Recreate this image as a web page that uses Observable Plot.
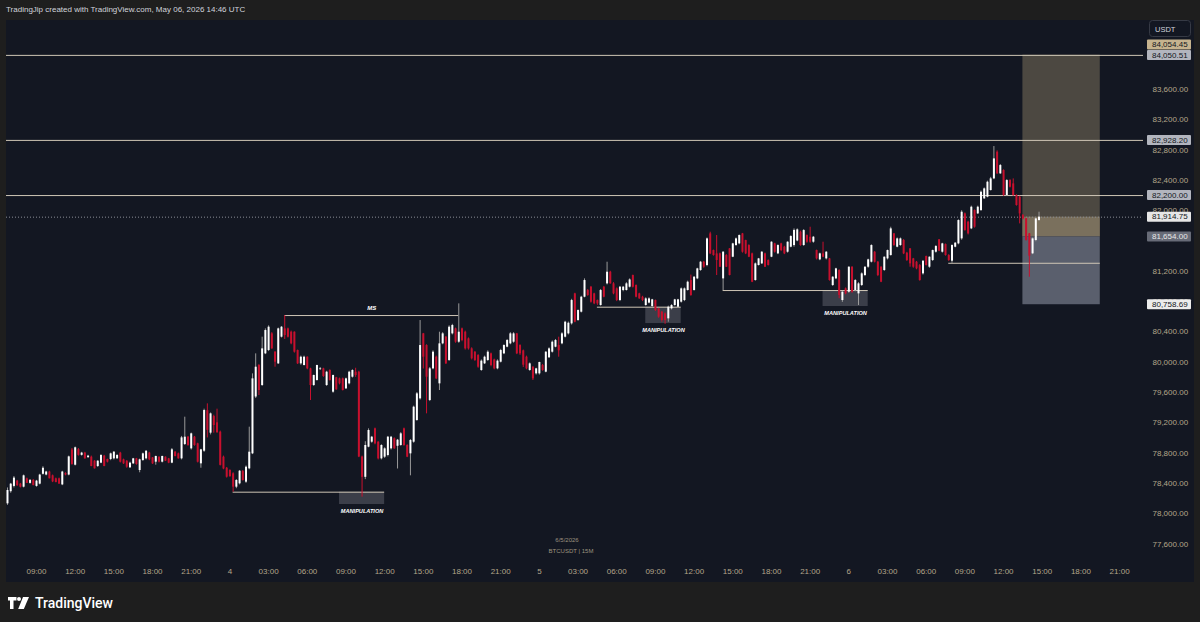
<!DOCTYPE html>
<html><head><meta charset="utf-8">
<script src="https://cdn.jsdelivr.net/npm/d3@7"></script>
<script src="https://cdn.jsdelivr.net/npm/@observablehq/plot@0.6"></script>
<style>
body{margin:0;background:#1e1e1e;width:1200px;height:622px;overflow:hidden;font-family:"Liberation Sans",Arial,sans-serif;position:relative;}
#hdr{position:absolute;left:6px;top:5px;font-size:8px;color:#d1d4dc;white-space:nowrap;}
#panel{position:absolute;left:6px;top:20px;width:1188px;height:562px;background:#131722;overflow:hidden;}
#panel svg{position:absolute;left:0;top:0;}
.wm{position:absolute;font-size:6px;color:#9d937f;white-space:nowrap;transform:translateX(-50%);}
#logo{position:absolute;left:8px;top:595px;display:flex;align-items:center;color:#fff;font-family:Roboto,"Liberation Sans",sans-serif;font-weight:500;font-size:14px;}
#logo svg{margin-right:6px;}
</style></head><body>
<div id="hdr">TradingJip created with TradingView.com, May 06, 2026 14:46 UTC</div>
<div id="panel"></div>
<div id="logo"><svg width="21" height="12" viewBox="0 0 21 12"><path d="M0 0h8.5v3.6h-3v8.4H2V3.6H0z" fill="#fff"/><circle cx="11" cy="2" r="2" fill="#fff"/><path d="M15 0h6l-5.2 12h-5.6z" fill="#fff"/></svg><span>TradingView</span></div>
<script>
// ---- data: 15m candles [open, high, low, close] ----
const day3Start = "2026-05-03T06:45:00Z";
const day3Candles = [
[78130,78340,78110,78306],[78290,78400,78270,78390],[78360,78490,78340,78470],[78430,78440,78360,78370],
[78390,78400,78340,78350],[78350,78510,78340,78500],[78460,78470,78400,78400],[78400,78450,78390,78440],
[78440,78450,78370,78370],[78360,78440,78350,78430],[78390,78520,78380,78510],[78520,78620,78510,78600],
[78510,78560,78500,78550],[78550,78560,78460,78460],[78500,78510,78410,78420],[78460,78470,78410,78410],
[78460,78470,78390,78390],[78380,78560,78370,78550],[78530,78540,78500,78510],[78510,78760,78500,78750],
[78840,78860,78640,78650],[78640,78880,78630,78870],[78845,78860,78760,78770],[78770,78810,78760,78800],
[78800,78810,78720,78724],[78740,78770,78730,78760],[78746,78760,78620,78623],[78693,78700,78590,78592],
[78623,78700,78610,78693],[78667,78780,78660,78768],[78760,78770,78620,78623],[78715,78720,78670,78680],
[78715,78800,78700,78790],[78724,78820,78710,78812],[78724,78780,78720,78768],[78799,78810,78670,78680],
[78711,78720,78650,78658],[78693,78700,78600,78614],[78605,78680,78600,78667],[78658,78730,78650,78724],
[78724,78730,78640,78649],[78570,78720,78540,78711],[78702,78800,78690,78790],[78724,78830,78710,78825],
[78800,78810,78700,78711],[78737,78740,78650,78658],[78680,78760,78640,78755],[78746,78750,78670,78680],
[78680,78760,78670,78755],[78746,78750,78690,78693],[78724,78730,78660,78667],[78667,78860,78660,78843],
[78812,78820,78750,78755],[78790,78800,78720,78724],[78724,79020,78710,79001],[78913,79274,78900,79010],
[79010,79020,78890,78900],[78856,79064,78840,79054],[79010,79020,78890,78900],[78922,78930,78670,78680],
[78658,78850,78600,78843],[78825,79380,78810,79362],[79360,79450,79000,79100],[79063,79330,79040,79318],
[79282,79300,79063,79164],[79200,79380,79060,79070],[79076,79090,78630,78638],[78746,78760,78580,78590],
[78600,78610,78470,78482]
];
const day4Start = "2026-05-04T00:00:00Z";
const day4Candles = [
[78570,78580,78480,78490],[78526,78540,78284,78350],[78350,78450,78330,78438],[78394,78570,78380,78561],
[78556,78570,78430,78438],[78416,78630,78400,78614],[78592,79142,78580,78812],[78790,79846,78780,79780],
[79540,80110,79520,79934],[79956,79970,79560,79626],[79692,80330,79680,80176],[80110,80440,80100,80418],
[80154,80480,80140,80462],[80374,80390,80170,80176],[80132,80140,79934,80000],[79978,80450,79970,80440],
[80330,80470,80320,80462],[80440,80616,80300,80352],[80440,80450,80320,80330],[80396,80410,80230,80242],
[80396,80400,80120,80132],[80154,80160,79970,79978],[79978,80080,79960,80066],[79956,80080,79950,80066],
[80066,80070,79900,79912],[79912,79920,79494,79692],[79692,79830,79680,79824],[79758,79960,79750,79956],
[79902,79930,79890,79912],[79912,79920,79800,79811],[79692,79880,79680,79868],[79890,79900,79750,79758],
[79604,79830,79590,79824],[79794,79800,79630,79635],[79780,79790,79700,79714],[79780,79790,79620,79626],
[79648,79790,79640,79780],[79714,79880,79700,79868],[79802,79900,79790,79890],[79868,79920,79800,79824],
[79868,79880,78740,78748],[78748,78760,78218,78480],[78480,78950,78450,78900],[78878,79120,78870,79098],
[78944,79020,78930,79010],[79120,79130,78910,78922],[78944,78950,78710,78724],[78724,78910,78710,78900],
[78746,78870,78730,78856],[78768,79020,78750,79010],[78856,79020,78840,79010],[78990,79000,78850,78856],
[78890,78980,78590,78970],[78900,79070,78890,79054],[79120,79130,78890,78900],[78900,78910,78740,78746],
[78790,78980,78500,78966],[78944,79420,78930,79406],[79230,79600,79220,79582],[79516,80550,79500,80220],
[80374,80380,79910,80066],[80220,80230,79318,79802],[79494,79930,79480,79912],[79912,80150,79900,80132],
[80066,80080,79770,79780],[79714,80396,79626,80242],[80242,80390,80230,80374],[80330,80340,79970,79978],
[80022,80480,80010,80462],[80374,80500,80360,80484],[80440,80450,80250,80264],[80264,80770,80250,80396],
[80440,80450,80270,80286],[80396,80410,80160,80176],[80308,80320,80160,80176],[80176,80190,80030,80044],
[80132,80140,80010,80022],[80088,80100,79920,79934],[79890,80030,79880,80014],[79978,80080,79970,80066],
[80022,80150,80010,80132],[80110,80120,79940,79956],[80030,80040,79900,79912],[79912,80030,79900,80014],
[80000,80170,79990,80154],[80110,80230,80100,80220],[80198,80300,80190,80286],[80242,80390,80230,80374],
[80264,80390,80250,80374],[80374,80380,80100,80110],[80220,80230,80090,80110],[80150,80160,79930,79960],
[80066,80080,79900,79912],[79890,79990,79880,79978],[79934,79940,79758,79780],[79846,79920,79830,79912]
];
const day5Start = "2026-05-05T00:00:00Z";
const day5Candles = [
[79846,80000,79830,79996],[79956,79970,79880,79890],[79868,80140,79860,80132],[80058,80190,80050,80176],
[80132,80280,80120,80264],[80198,80300,80190,80286],[80220,80330,80066,80150],[80242,80390,80230,80374],
[80330,80540,80320,80528],[80374,80530,80360,80514],[80506,80830,80490,80814],[80902,80910,80520,80528],
[80550,80690,80540,80682],[80660,80870,80650,80858],[80858,81100,80850,81078],[80946,80960,80870,80880],
[80990,81000,80780,80792],[80902,80910,80760,80770],[80814,80820,80750,80770],[80748,80960,80740,80946],
[80990,81000,80850,80858],[81034,81320,81020,81188],[81188,81200,81030,81034],[81034,81050,80890,80902],
[80968,80980,80800,80814],[80814,81000,80800,80990],[80946,81000,80930,80990],[80946,81050,80940,81034],
[80990,81100,80980,81086],[81144,81150,80980,80990],[81012,81020,80850,80858],[80902,80910,80830,80836],
[80858,80870,80800,80814],[80748,80850,80740,80836],[80780,80850,80770,80836],[80735,80830,80720,80823],
[80814,80820,80670,80682],[80704,80710,80580,80594],[80660,80670,80528,80550],[80638,80650,80500,80550],
[80572,80740,80528,80726],[80704,80760,80690,80748],[80748,80830,80740,80823],[80726,80830,80720,80823],
[80792,80980,80780,80968],[80814,80980,80800,80968],[80946,81070,80940,81056],[81078,81150,80870,80880],
[80946,81130,80940,81122],[81100,81240,81090,81232],[81210,81330,81200,81320],[81320,81330,81240,81254],
[81276,81640,81260,81628],[81694,81716,81420,81430],[81474,81480,81400,81408],[81430,81672,81144,81342],
[81430,81440,81250,81254],[81100,81460,80946,81452],[81408,81420,81250,81254],[81496,81500,81140,81144],
[81386,81570,81380,81562],[81540,81640,81530,81628],[81562,81680,81550,81672],[81694,81700,81440,81452],
[81606,81610,81420,81430],[81540,81550,81380,81386],[81430,81440,81050,81056],[81078,81310,81070,81298],
[81276,81370,81270,81364],[81298,81460,81290,81452],[81430,81440,81250,81254],[81342,81350,81270,81276],
[81386,81590,81380,81584],[81562,81570,81440,81452],[81430,81550,81420,81540],[81562,81570,81460,81474],
[81518,81530,81420,81430],[81452,81590,81440,81584],[81518,81670,81510,81659],[81540,81760,81518,81740],
[81600,81760,81590,81747],[81716,81730,81530,81540],[81540,81750,81530,81738],[81672,81680,81570,81584],
[81650,81782,81570,81584],[81584,81660,81570,81650],[81474,81480,81350,81364],[81351,81440,81340,81430],
[81430,81584,81380,81386],[81364,81460,81350,81452],[81364,81370,81070,81078],[81012,81130,81000,81122],
[81100,81240,81090,81232],[81210,81220,80838,80880],[80814,80930,80790,80924],[80968,80980,80890,80902]
];
const day6Start = "2026-05-06T00:00:00Z";
const day6Candles = [
[80924,81260,80910,81254],[81254,81260,80910,80924],[80946,81090,80930,81078],[80902,81050,80748,81034],
[81012,81180,81000,81166],[81144,81260,81130,81254],[81254,81360,81240,81351],[81320,81550,81310,81540],
[81452,81460,81310,81320],[81320,81330,81130,81144],[81254,81260,81050,81056],[81210,81390,81200,81386],
[81364,81480,81350,81474],[81408,81782,81400,81760],[81694,81700,81530,81540],[81518,81640,81510,81628],
[81540,81640,81530,81628],[81606,81620,81420,81430],[81439,81450,81330,81342],[81496,81500,81254,81298],
[81364,81370,81240,81254],[81320,81330,81220,81232],[81276,81290,81069,81078],[81166,81340,81150,81333],
[81395,81400,81270,81276],[81254,81390,81240,81386],[81342,81480,81330,81474],[81452,81540,81440,81527],
[81615,81620,81460,81465],[81452,81570,81440,81562],[81553,81560,81400,81408],[81408,81420,81330,81342],
[81333,81550,81306,81540],[81518,81580,81510,81571],[81562,81880,81550,81870],[81628,82000,81610,81980],
[81958,81970,81730,81738],[81848,81860,81680,81694],[81760,82060,81750,82046],[82002,82010,81770,81782],
[81958,82060,81950,82046],[82002,82260,81990,82244],[82156,82300,82150,82288],[82178,82390,82170,82376],
[82266,82440,82260,82420],[82420,82847,82410,82684],[82772,82790,82480,82486],[82486,82610,82480,82596],
[82530,82540,82190,82200],[82200,82410,82190,82398],[82398,82410,82300,82310],[82354,82420,82190,82200],
[82200,82210,82060,82068],[82178,82190,81826,81958],[81936,81950,81880,81892],[81892,81900,81600,81606],
[81694,81700,81122,81400],[81430,81640,81420,81628],[81606,81900,81590,81892],[81870,81980,81860,81914.75]
];

// price axis ticks (those fully covered by price labels in the reference are left out) and time-axis labels
const yTicks = [77600,78000,78400,78800,79200,79600,80000,80400,80800,81200,82000,82400,82800,83200,83600];
const xTickStart = "2026-05-03T09:00:00Z";
const xTickLabels = ["09:00","12:00","15:00","18:00","21:00","4","03:00","06:00","09:00","12:00","15:00","18:00","21:00","5","03:00","06:00","09:00","12:00","15:00","18:00","21:00","6","03:00","06:00","09:00","12:00","15:00","18:00","21:00"];

// drawings
const horizontalLevels = [84050.51, 82928.20, 82200.00];
const lastPrice = 81914.75;
const segmentLines = [
  {from:"2026-05-04T04:15:00Z", to:"2026-05-04T17:45:00Z", price:80616},
  {from:"2026-05-04T00:15:00Z", to:"2026-05-04T12:00:00Z", price:78284},
  {from:"2026-05-05T04:30:00Z", to:"2026-05-05T11:00:00Z", price:80726},
  {from:"2026-05-05T14:15:00Z", to:"2026-05-06T01:30:00Z", price:80946},
  {from:"2026-05-06T07:45:00Z", to:"2026-05-06T19:30:00Z", price:81306}
];
const manipulationZones = [
  {from:"2026-05-04T08:30:00Z", to:"2026-05-04T12:00:00Z", top:78284, bottom:78121},
  {from:"2026-05-05T08:15:00Z", to:"2026-05-05T11:00:00Z", top:80726, bottom:80510},
  {from:"2026-05-05T22:00:00Z", to:"2026-05-06T01:30:00Z", top:80946, bottom:80735}
];
const msLabel = {from:"2026-05-04T04:15:00Z", to:"2026-05-04T17:45:00Z", price:80616, text:"MS"};
const positionTool = {from:"2026-05-06T13:30:00Z", to:"2026-05-06T19:30:00Z", target:84054.45, entry:81654.00, stop:80758.69};

// ---- build ----
const starts = [day3Start, day4Start, day5Start, day6Start];
const candles = [day3Candles, day4Candles, day5Candles, day6Candles].flatMap((arr, k) =>
  arr.map((v, j) => ({t: new Date(+new Date(starts[k]) + j*15*60000), o:v[0], h:v[1], l:v[2], c:v[3]})));
const xTicks = xTickLabels.map((label, k) => ({t: new Date(+new Date(xTickStart) + k*3*3600000), label}));
const segs = segmentLines.map(d => ({x1:new Date(d.from), x2:new Date(d.to), y:d.price}));
const zones = manipulationZones.map(d => ({x1:new Date(d.from), x2:new Date(d.to), y1:d.bottom, y2:d.top, xm:new Date((+new Date(d.from) + +new Date(d.to))/2)}));
const pt = {x1:new Date(positionTool.from), x2:new Date(positionTool.to)};

const UP = "#ffffff", DOWN = "#c8102e", UPWICK = "#9a9a9a";
const AXIS = "#b3a68b", LINE = "#cfc6b6";
const fmt = d3.format(",.2f");
const FONT = "'Liberation Sans', Arial, sans-serif";

const plot = Plot.plot({
  width: 1188, height: 562,
  marginLeft: 0, marginRight: 51, marginTop: 0, marginBottom: 22,
  style: {background: "transparent", fontFamily: FONT, overflow: "visible"},
  x: {type: "utc", domain: [new Date("2026-05-03T06:40:24Z"), new Date("2026-05-06T22:51:10Z")], axis: null},
  y: {domain: [77382, 84511], axis: null},
  marks: [
    // position tool
    Plot.rect([pt], {x1:"x1", x2:"x2", y1:positionTool.entry, y2:positionTool.target, fill:"#4c4841"}),
    Plot.rect([pt], {x1:"x1", x2:"x2", y1:positionTool.entry, y2:lastPrice, fill:"#7a705d"}),
    Plot.rect([pt], {x1:"x1", x2:"x2", y1:positionTool.stop, y2:positionTool.entry, fill:"#5a5f6d"}),
    // manipulation zones
    Plot.rect(zones, {x1:"x1", x2:"x2", y1:"y1", y2:"y2", fill:"#3b3e49"}),
    // horizontal levels
    Plot.ruleY(horizontalLevels, {stroke: LINE, strokeWidth: 1}),
    Plot.ruleY([lastPrice], {stroke: "#8a8d96", strokeWidth: 1, strokeDasharray: "1,2"}),
    // segment lines
    Plot.ruleY(segs, {x1:"x1", x2:"x2", y:"y", stroke: LINE, strokeWidth: 1}),
    // candles
    Plot.ruleX(candles, {x:"t", y1:"l", y2:"h", stroke: d => d.c >= d.o ? UPWICK : DOWN, strokeWidth: 1}),
    Plot.ruleX(candles, {x:"t", y1: d => Math.min(d.o, d.c), y2: d => Math.max(d.o, d.c), stroke: d => d.c >= d.o ? UP : DOWN, strokeWidth: 2}),
    // labels
    Plot.text([msLabel], {x: d => new Date((+new Date(d.from) + +new Date(d.to))/2), y:"price", text:"text", dy:-7, fill:"#fff", fontSize:6, fontWeight:"bold", fontStyle:"italic"}),
    Plot.text(zones, {x:"xm", y:"y1", text: () => "MANIPULATION", dy:6.5, fill:"#fff", fontSize:5.6, fontWeight:"bold", fontStyle:"italic"}),
    // axes
    Plot.text(xTicks, {x:"t", text:"label", frameAnchor:"bottom", dy:13, fill: AXIS, fontSize: 8}),
    Plot.text(yTicks, {y: d => d, text: d => fmt(d), frameAnchor:"right", dx: 9, textAnchor:"start", fill: AXIS, fontSize: 8})
  ]
});
document.getElementById("panel").appendChild(plot);

// price labels on the price scale
const ys = plot.scale("y");
const svg = d3.select(plot);
const priceLabels = [
  {price: positionTool.target, bg:"#c6b38e", fg:"#131722", shift:-10},
  {price: horizontalLevels[0], bg:"#b2b5be", fg:"#131722", shift:0},
  {price: horizontalLevels[1], bg:"#b2b5be", fg:"#131722", shift:0},
  {price: horizontalLevels[2], bg:"#b2b5be", fg:"#131722", shift:0},
  {price: lastPrice, bg:"#e6e6e6", fg:"#131722", shift:0},
  {price: positionTool.entry, bg:"#676b77", fg:"#e8e8e8", shift:0},
  {price: positionTool.stop, bg:"#ececec", fg:"#131722", shift:0}
];
for (const p of priceLabels) {
  const y = ys.apply(p.price) + p.shift;
  const g = svg.append("g");
  g.append("rect").attr("x", 1141).attr("y", y - 5).attr("width", 44).attr("height", 10).attr("rx", 1).attr("fill", p.bg);
  g.append("text").attr("x", 1146).attr("y", y).attr("dy", "0.35em").attr("font-size", 8).attr("fill", p.fg)
    .attr("text-anchor", "start").attr("font-family", FONT).text(fmt(p.price));
}
// currency badge
const badge = svg.append("g");
badge.append("rect").attr("x", 1143.5).attr("y", 0.5).attr("width", 41).attr("height", 16).attr("rx", 3).attr("fill", "#131722").attr("stroke", "#363a45");
badge.append("text").attr("x", 1149).attr("y", 9).attr("dy", "0.35em").attr("font-size", 7.5).attr("fill", "#d1d4dc")
  .attr("text-anchor", "start").attr("font-family", FONT).text("USDT");

// watermark
const panel = document.getElementById("panel");
const wm1 = document.createElement("div"); wm1.className = "wm"; wm1.style.left = "561px"; wm1.style.top = "517px"; wm1.textContent = "6/5/2026";
const wm2 = document.createElement("div"); wm2.className = "wm"; wm2.style.left = "565px"; wm2.style.top = "528px"; wm2.textContent = "BTCUSDT | 15M";
panel.appendChild(wm1); panel.appendChild(wm2);
</script>
</body></html>
